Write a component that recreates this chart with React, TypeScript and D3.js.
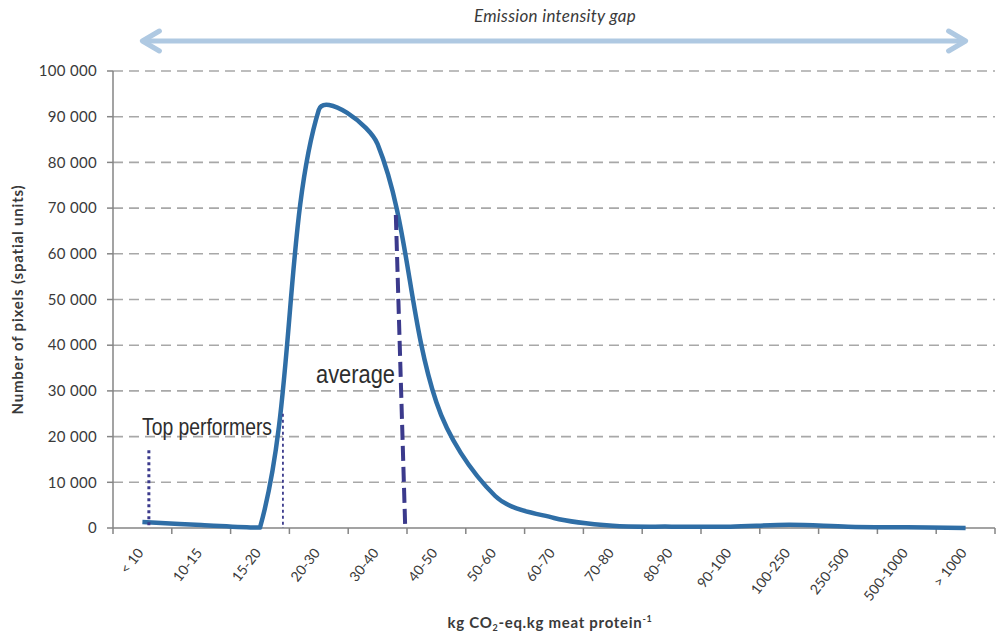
import { useMemo } from 'react';
import * as d3 from 'd3';

// chart data
const categories = ['< 10', '10-15', '15-20', '20-30', '30-40', '40-50', '50-60', '60-70', '70-80', '80-90', '90-100', '100-250', '250-500', '500-1000', '> 1000'];
const pixelCounts = [1300, 650, 100, 91500, 84000, 27500, 7000, 2200, 500, 300, 300, 700, 300, 150, 0];
const yTicks = [0, 10000, 20000, 30000, 40000, 50000, 60000, 70000, 80000, 90000, 100000];

// annotation markers, x in category units (0 = left edge of axis), y in pixel counts
const topPerformerLines = [
  { x: 0.61, top: 17000 },
  { x: 2.89, top: 25000 },
];
const averageLine = [
  { x: 4.81, y: 68500 },
  { x: 4.97, y: 0 },
];

const W = 997;
const H = 633;
const margin = { top: 71, right: 2, bottom: 105, left: 113 };

const lineColor = '#2f6ea6';
const markColor = '#3b3a8c';
const textColor = '#3a3a3a';
const axisColor = '#858585';

const fmt = d3.formatLocale({ decimal: '.', thousands: ' ', grouping: [3], currency: ['', ''] }).format(',');

type Pt = [number, number];
const dist = (a: Pt, b: Pt) => Math.hypot(b[0] - a[0], b[1] - a[1]);

// spreadsheet-style smoothed line: catmull-rom tangents, arm length scaled by
// neighbouring segment lengths; control points kept above the baseline
function smoothPath(pts: Pt[], maxY: number) {
  const p = d3.path();
  const cl = (v: number) => Math.min(v, maxY);
  p.moveTo(pts[0][0], pts[0][1]);
  for (let i = 0; i < pts.length - 1; i++) {
    const P0 = pts[i - 1] ?? pts[i];
    const P1 = pts[i];
    const P2 = pts[i + 1];
    const P3 = pts[i + 2] ?? pts[i + 1];
    const d01 = dist(P0, P1);
    const d12 = dist(P1, P2);
    const d23 = dist(P2, P3);
    const s1 = d01 > 0 ? (2 * d12) / (d01 + d12) : 1;
    const s2 = d23 > 0 ? (2 * d12) / (d12 + d23) : 1;
    p.bezierCurveTo(
      P1[0] + (s1 * (P2[0] - P0[0])) / 6,
      cl(P1[1] + (s1 * (P2[1] - P0[1])) / 6),
      P2[0] - (s2 * (P3[0] - P1[0])) / 6,
      cl(P2[1] - (s2 * (P3[1] - P1[1])) / 6),
      P2[0],
      P2[1]
    );
  }
  return p.toString();
}

export default function App() {
  const innerW = W - margin.left - margin.right;
  const x = d3.scaleBand<string>().domain(categories).range([margin.left, margin.left + innerW]).paddingInner(0).paddingOuter(0);
  const xUnit = d3.scaleLinear().domain([0, categories.length]).range([margin.left, margin.left + innerW]);
  const y = d3.scaleLinear().domain([0, 100000]).range([H - margin.bottom, margin.top]);
  const x0 = margin.left;
  const x1 = margin.left + innerW;
  const yBase = y(0);
  const cx = (c: string) => (x(c) as number) + x.bandwidth() / 2;

  const linePath = useMemo(() => {
    const pts: Pt[] = pixelCounts.map((v, i) => [cx(categories[i]), y(v)]);
    return smoothPath(pts, yBase);
  }, []);

  const arrowY = 41;
  const arrowL = cx(categories[0]);
  const arrowR = cx(categories[categories.length - 1]);

  return (
    <svg width={W} height={H} style={{ position: 'absolute', left: 0, top: 0, background: '#fff' }} fontFamily="Lato, 'Open Sans', sans-serif">
      {/* emission intensity gap arrow */}
      <text x={555} y={22} textAnchor="middle" fontSize={17} letterSpacing={0.3} fontStyle="italic" fill={textColor}>
        Emission intensity gap
      </text>
      <g stroke="#afc9e2" strokeWidth={5} fill="none" strokeLinecap="round" strokeLinejoin="round">
        <line x1={arrowL + 2} x2={arrowR - 2} y1={arrowY} y2={arrowY} />
        <polyline points={`${arrowL + 17},${arrowY - 10} ${arrowL},${arrowY} ${arrowL + 17},${arrowY + 10}`} />
        <polyline points={`${arrowR - 17},${arrowY - 10} ${arrowR},${arrowY} ${arrowR - 17},${arrowY + 10}`} />
      </g>

      {/* grid */}
      {yTicks.filter((t) => t > 0).map((t) => (
        <line key={t} x1={x0} x2={x1} y1={y(t)} y2={y(t)} stroke="#a8a8a8" strokeWidth={1.6} strokeDasharray="10,6" />
      ))}

      {/* y axis */}
      <line x1={x0} x2={x0} y1={margin.top} y2={yBase} stroke={axisColor} strokeWidth={1.5} />
      {yTicks.map((t) => (
        <g key={t}>
          <line x1={x0 - 6} x2={x0} y1={y(t)} y2={y(t)} stroke={axisColor} strokeWidth={1.5} />
          <text x={x0 - 16} y={y(t)} dy="0.35em" textAnchor="end" fontSize={15} letterSpacing={0.3} fill={textColor}>
            {fmt(t)}
          </text>
        </g>
      ))}
      <text transform={`translate(23,${(margin.top + yBase) / 2}) rotate(-90)`} textAnchor="middle" fontSize={15} letterSpacing={0.8} fontWeight="bold" fill={textColor}>
        Number of pixels (spatial units)
      </text>

      {/* x axis */}
      <line x1={x0} x2={x1} y1={yBase} y2={yBase} stroke={axisColor} strokeWidth={1.5} />
      {d3.range(categories.length + 1).map((k) => (
        <line key={k} x1={xUnit(k)} x2={xUnit(k)} y1={yBase} y2={yBase + 6} stroke={axisColor} strokeWidth={1.5} />
      ))}
      {categories.map((c) => (
        <text key={c} transform={`translate(${cx(c) - 2},${yBase + 22}) rotate(-52)`} textAnchor="end" dy="0.35em" fontSize={14} fill={textColor}>
          {c}
        </text>
      ))}
      <text x={550} y={628} textAnchor="middle" fontSize={15} letterSpacing={0.7} fontWeight="bold" fill={textColor}>
        kg CO
        <tspan fontSize={9} dy={3}>2</tspan>
        <tspan dy={-3}>-eq.kg meat protein</tspan>
        <tspan fontSize={9} dy={-6}>-1</tspan>
      </text>

      {/* series */}
      <path d={linePath} fill="none" stroke={lineColor} strokeWidth={4.5} strokeLinejoin="round" />

      {/* annotations */}
      <line x1={xUnit(topPerformerLines[0].x)} x2={xUnit(topPerformerLines[0].x)} y1={y(topPerformerLines[0].top)} y2={yBase} stroke={markColor} strokeWidth={3} strokeDasharray="3,3" />
      <line x1={xUnit(topPerformerLines[1].x)} x2={xUnit(topPerformerLines[1].x)} y1={y(topPerformerLines[1].top)} y2={yBase} stroke={markColor} strokeWidth={1.8} strokeDasharray="3,3" />
      <line x1={xUnit(averageLine[0].x)} y1={y(averageLine[0].y)} x2={xUnit(averageLine[1].x)} y2={y(averageLine[1].y)} stroke={markColor} strokeWidth={4} strokeDasharray="15,6" />
      <text x={142} y={435} fontFamily="'Liberation Sans', Arial, sans-serif" fontSize={24} textLength={130} lengthAdjust="spacingAndGlyphs" fill="#2e2e2e">
        Top performers
      </text>
      <text x={316} y={383} fontFamily="'Liberation Sans', Arial, sans-serif" fontSize={26} textLength={79} lengthAdjust="spacingAndGlyphs" fill="#2e2e2e">
        average
      </text>
    </svg>
  );
}
